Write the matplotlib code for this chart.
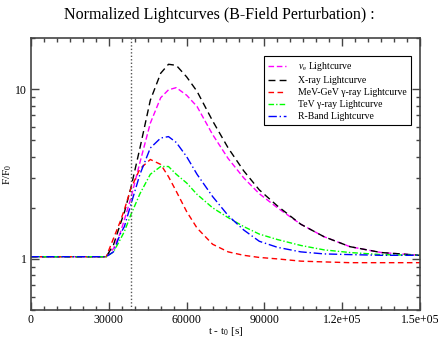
import matplotlib
matplotlib.use("Agg")
import matplotlib.pyplot as plt
from matplotlib.ticker import MultipleLocator, FixedLocator, FuncFormatter, LogLocator, NullFormatter

plt.rcParams['font.family'] = ['Liberation Serif', 'DejaVu Serif']
plt.rcParams['mathtext.fontset'] = 'custom'
plt.rcParams['mathtext.rm'] = 'Liberation Serif'
plt.rcParams['mathtext.it'] = 'Liberation Serif:italic'

# time grid [s] and normalized fluxes
t = [0, 29000, 31800, 34400, 36000, 38500, 42000, 46000, 50000, 53000, 56000,
     60000, 64000, 70000, 76000, 82000, 88000, 95000, 104000, 113000, 123000,
     135000, 150000]
nu_e = [1.03, 1.03, 1.15, 1.42, 1.7, 2.28, 3.7, 6.3, 8.9, 9.9, 10.2,
        9.2, 7.9, 5.4, 3.9, 3.0, 2.42, 2.0, 1.6, 1.35, 1.18, 1.09, 1.05]
xray = [1.03, 1.03, 1.21, 1.6, 1.88, 2.62, 4.5, 8.6, 12.4, 14.0, 13.8,
        11.8, 9.7, 6.5, 4.5, 3.3, 2.55, 2.05, 1.6, 1.35, 1.18, 1.09, 1.05]
mev_gev = [1.03, 1.03, 1.32, 1.66, 1.95, 2.6, 3.39, 3.85, 3.6, 3.05, 2.5,
           1.9, 1.52, 1.22, 1.1, 1.05, 1.02, 1.0, 0.97, 0.96, 0.95, 0.95, 0.95]
tev = [1.03, 1.03, 1.1, 1.3, 1.45, 1.82, 2.42, 3.15, 3.5, 3.5, 3.15,
       2.8, 2.4, 2.0, 1.75, 1.55, 1.4, 1.3, 1.2, 1.13, 1.09, 1.06, 1.05]
rband = [1.03, 1.03, 1.1, 1.4, 1.55, 2.09, 3.15, 4.5, 5.15, 5.25, 4.85,
         4.0, 3.15, 2.33, 1.8, 1.48, 1.27, 1.17, 1.1, 1.07, 1.06, 1.05, 1.05]
t_pert = 38500

fig = plt.figure(figsize=(4.39, 3.39), dpi=100)
ax = fig.add_axes([0.0706, 0.0855, 0.8864, 0.8025])

ax.plot(t, nu_e, color='#ff00ff', lw=1, dashes=(4, 2), label=r'$\nu_\mathrm{e}$ Lightcurve')
ax.plot(t, xray, color='black', lw=1, dashes=(5, 3), label='X-ray Lightcurve')
ax.plot(t, mev_gev, color='red', lw=1, dashes=(4, 2.5), label='MeV-GeV γ-ray Lightcurve')
ax.plot(t, tev, color='#00ff00', lw=1, dashes=(4, 1.5, 1, 1.5), label='TeV γ-ray Lightcurve')
ax.plot(t, rband, color='blue', lw=1, dashes=(6, 2, 1, 2), label='R-Band Lightcurve')
ax.axvline(t_pert, color='#555555', lw=1, ls=(0, (1, 1.5)))

ax.set_yscale('log')
ax.set_xlim(0, 150000)
ax.set_ylim(0.5, 20)

ax.xaxis.set_major_locator(MultipleLocator(30000))
ax.xaxis.set_minor_locator(MultipleLocator(5000))
ax.xaxis.set_major_formatter(FuncFormatter(
    lambda v, p: '%d' % v if v < 100000 else '%.1e' % v))
ax.yaxis.set_major_locator(FixedLocator([1, 10]))
ax.yaxis.set_major_formatter(FuncFormatter(lambda v, p: '%g' % v))
ax.yaxis.set_minor_locator(LogLocator(base=10, subs=range(2, 10)))
ax.yaxis.set_minor_formatter(NullFormatter())

ax.tick_params(which='both', direction='in', top=True, right=True, labelsize=8.5,
               width=1, color='#444444', pad=3)
ax.tick_params(which='major', length=6)
ax.tick_params(which='minor', length=3)
for s in ax.spines.values():
    s.set_color('#444444')
    s.set_linewidth(1.2)

ax.set_xlabel(r't - t$_0$ [s]', fontsize=8, labelpad=-1)
ax.set_ylabel(r'F/F$_0$', fontsize=8, labelpad=1)
fig.suptitle('Normalized Lightcurves (B-Field Perturbation) :', fontsize=11.5, y=0.98)

leg = ax.legend(loc='upper left', bbox_to_anchor=(0.599, 0.934), fontsize=7,
                handlelength=1.8, handletextpad=1.2, labelspacing=0.3,
                borderpad=0.45, fancybox=False, framealpha=1, borderaxespad=0)
leg.get_frame().set_edgecolor('black')
leg.get_frame().set_linewidth(0.8)

fig.savefig('out.png', dpi=100)
